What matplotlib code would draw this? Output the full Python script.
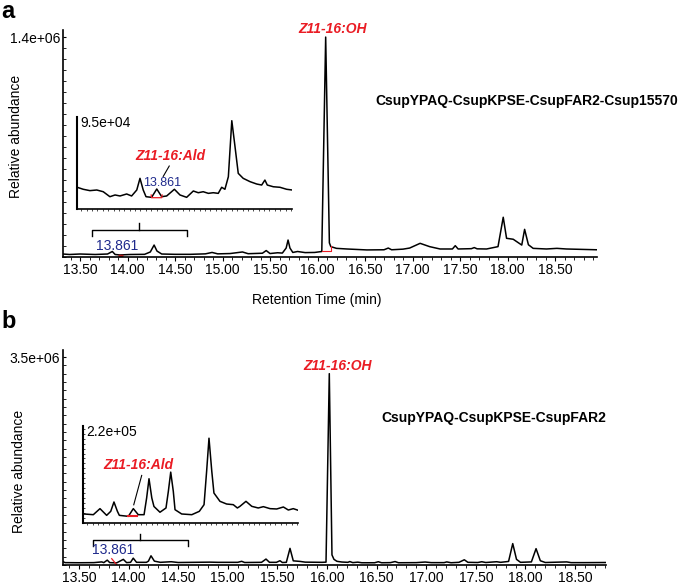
import matplotlib
matplotlib.use('Agg')
import matplotlib.pyplot as plt
from matplotlib.ticker import MultipleLocator, FormatStrFormatter

plt.rcParams['font.family'] = ['Liberation Sans', 'DejaVu Sans']
plt.rcParams['font.size'] = 10

# ---- panel a: CsupYPAQ-CsupKPSE-CsupFAR2-Csup15570 ----
a_time = [13.32, 13.39, 13.50, 13.66, 13.79, 13.84, 13.87, 13.92, 14.03, 14.18,
          14.24, 14.28, 14.31, 14.36, 14.50, 14.66, 14.82, 14.89, 14.95, 15.08,
          15.21, 15.27, 15.42, 15.46, 15.50, 15.58, 15.63, 15.67, 15.69, 15.71,
          15.74, 15.79, 15.87, 15.97, 16.045, 16.086, 16.125, 16.14, 16.20, 16.31,
          16.52, 16.70, 16.745, 16.78, 16.90, 16.97, 17.08, 17.18, 17.29, 17.42,
          17.45, 17.48, 17.62, 17.65, 17.68, 17.78, 17.90, 17.955, 17.99, 18.06,
          18.15, 18.18, 18.22, 18.27, 18.41, 18.52, 18.62, 18.94]
a_abund = [19e3, 16e3, 19e3, 16e3, 19e3, 35e3, 16e3, 13e3, 16e3, 17e3,
           32e3, 76e3, 38e3, 19e3, 17e3, 17e3, 20e3, 29e3, 20e3, 22e3,
           32e3, 21e3, 24e3, 41e3, 22e3, 27e3, 25e3, 57e3, 108e3, 57e3,
           29e3, 35e3, 28e3, 29e3, 35e3, 1400e3, 90e3, 66e3, 55e3, 51e3,
           45e3, 46e3, 57e3, 46e3, 50e3, 57e3, 87e3, 66e3, 51e3, 51e3,
           72e3, 51e3, 53e3, 60e3, 52e3, 51e3, 66e3, 253e3, 119e3, 113e3,
           76e3, 176e3, 78e3, 55e3, 51e3, 55e3, 51e3, 46e3]

a_inset_time = [13.631, 13.659, 13.690, 13.722, 13.752, 13.783, 13.807, 13.830, 13.861,
                13.884, 13.908, 13.923, 13.938, 13.951, 13.977, 14.001, 14.024, 14.047,
                14.083, 14.109, 14.140, 14.171, 14.194, 14.217, 14.241, 14.264, 14.287,
                14.303, 14.318, 14.334, 14.350, 14.365, 14.380, 14.403, 14.435, 14.466,
                14.489, 14.504, 14.515, 14.543, 14.574, 14.605, 14.631]
a_inset_abund = [24.0e3, 21.8e3, 20.3e3, 21.0e3, 19.1e3, 13.6e3, 15.5e3, 14.4e3, 16.6e3,
                 14.4e3, 21.0e3, 33.9e3, 21.0e3, 13.6e3, 12.9e3, 22.1e3, 13.6e3, 14.4e3,
                 21.8e3, 15.5e3, 12.9e3, 19.9e3, 18.0e3, 19.1e3, 17.3e3, 18.0e3, 17.3e3,
                 24.0e3, 21.8e3, 35.7e3, 97.6e3, 68.8e3, 39.4e3, 33.9e3, 30.2e3, 27.6e3,
                 26.5e3, 32.0e3, 26.5e3, 24.6e3, 24.0e3, 21.8e3, 21.0e3]

# ---- panel b: CsupYPAQ-CsupKPSE-CsupFAR2 ----
b_time = [13.34, 13.36, 13.50, 13.65, 13.73, 13.75, 13.785, 13.81, 13.88, 13.947,
          13.98, 14.02, 14.047, 14.08, 14.18, 14.20, 14.226, 14.26, 14.32, 14.43,
          14.50, 14.82, 14.90, 15.10, 15.14, 15.17, 15.34, 15.385, 15.42, 15.49,
          15.526, 15.55, 15.59, 15.627, 15.66, 15.73, 15.78, 15.95, 15.99, 16.023,
          16.05, 16.07, 16.10, 16.15, 16.21, 16.23, 16.26, 16.31, 16.35, 16.48,
          16.517, 16.55, 16.64, 16.686, 16.72, 16.90, 16.99, 17.05, 17.18, 17.207,
          17.25, 17.33, 17.384, 17.42, 17.52, 17.56, 17.60, 17.71, 17.75, 17.83,
          17.872, 17.91, 17.95, 18.06, 18.107, 18.15, 18.20, 18.416, 18.46, 18.60,
          18.81]
b_abund = [55e3, 40e3, 38e3, 40e3, 52e3, 40e3, 82e3, 40e3, 36e3, 95e3,
           40e3, 45e3, 115e3, 45e3, 45e3, 65e3, 155e3, 65e3, 45e3, 55e3,
           42e3, 48e3, 45e3, 45e3, 62e3, 42e3, 45e3, 100e3, 45e3, 45e3,
           72e3, 42e3, 45e3, 280e3, 70e3, 60e3, 48e3, 45e3, 48e3, 3220e3,
           170e3, 95e3, 62e3, 50e3, 45e3, 58e3, 40e3, 48e3, 38e3, 38e3,
           55e3, 38e3, 40e3, 58e3, 38e3, 40e3, 50e3, 40e3, 40e3, 52e3,
           38e3, 45e3, 88e3, 45e3, 42e3, 55e3, 42e3, 55e3, 45e3, 60e3,
           360e3, 95e3, 45e3, 52e3, 275e3, 72e3, 42e3, 52e3, 40e3, 40e3,
           42e3]

b_inset_time = [13.635, 13.678, 13.709, 13.740, 13.759, 13.774, 13.790, 13.799, 13.841,
                13.864, 13.887, 13.914, 13.926, 13.937, 13.950, 13.960, 13.988, 14.016,
                14.027, 14.038, 14.050, 14.058, 14.089, 14.136, 14.171, 14.193, 14.205,
                14.216, 14.229, 14.239, 14.267, 14.298, 14.329, 14.348, 14.360, 14.388,
                14.415, 14.445, 14.469, 14.500, 14.531, 14.562, 14.585, 14.608, 14.631]
b_inset_abund = [21.8e3, 20.1e3, 34.7e3, 18.5e3, 28.2e3, 50.8e3, 28.2e3, 18.5e3, 16.1e3,
                 34.7e3, 20.1e3, 20.1e3, 60.5e3, 107e3, 60.5e3, 40.0e3, 26.0e3, 36.3e3,
                 76.6e3, 123e3, 76.6e3, 32.2e3, 21.8e3, 20.1e3, 28.2e3, 44.3e3, 125e3,
                 205e3, 125e3, 72.5e3, 52.4e3, 45.9e3, 44.3e3, 36.3e3, 40.3e3, 52.4e3,
                 40.3e3, 36.3e3, 39.5e3, 34.7e3, 33.9e3, 38.7e3, 31.4e3, 34.7e3, 30.7e3]

# axis ranges / labels
a_xlim = (13.321, 18.942)
b_xlim = (13.339, 18.812)
a_ylim_top, a_ylabel_val = 1.445e6, 1.4e6
b_ylim_top, b_ylabel_val = 3.618e6, 3.5e6
inset_xlim = (13.63, 14.63)
a_inset_top, a_inset_label = 101.7e3, 9.5e4
b_inset_top, b_inset_label = 234.5e3, 2.2e5
a_bracket = (13.626, 14.626)
b_bracket = (13.641, 14.599)

RED = '#ea1c24'
NAVY = '#1f2a8c'
W, H = 685, 586
DY = 2  # lift panel b a little so its tick labels stay inside the figure
LW = 1.1


def px_rect(left, top, right, bottom):
    return [left / W, 1 - bottom / H, (right - left) / W, (bottom - top) / H]


def style_main(ax, xlim, ytop, ylabel_val, ystep):
    ax.set_xlim(*xlim)
    ax.set_ylim(0, ytop)
    for s in ['top', 'right']:
        ax.spines[s].set_visible(False)
    for s in ['left', 'bottom']:
        ax.spines[s].set_linewidth(1.2)
    ax.xaxis.set_major_locator(MultipleLocator(0.5))
    ax.xaxis.set_minor_locator(MultipleLocator(0.1))
    ax.xaxis.set_major_formatter(FormatStrFormatter('%.2f'))
    ax.tick_params(axis='x', which='major', length=3, width=0.8, labelsize=10, pad=1.5)
    ax.tick_params(axis='x', which='minor', length=2, width=0.6)
    ax.set_yticks([ylabel_val])
    ax.set_yticklabels([f'{ylabel_val:.1e}'])
    ax.yaxis.set_minor_locator(MultipleLocator(ystep))
    ax.tick_params(axis='y', which='major', direction='in', length=2, width=0.8,
                   labelsize=10, pad=2)
    ax.tick_params(axis='y', which='minor', direction='in', length=2, width=0.6)


def style_inset(ax, ytop, label_val):
    ax.set_xlim(*inset_xlim)
    ax.set_ylim(0, ytop)
    for s in ['top', 'right']:
        ax.spines[s].set_visible(False)
    ax.spines['left'].set_linewidth(1.5)
    ax.spines['bottom'].set_linewidth(1.2)
    ax.set_yticks([])
    ax.set_xticks([])
    ax.xaxis.set_minor_locator(MultipleLocator(0.025))
    ax.tick_params(axis='x', which='minor', length=1.5, width=0.5)
    ax.patch.set_alpha(0)
    ax.text(0.015, label_val, f'{label_val:.1e}', transform=ax.get_yaxis_transform(),
            ha='left', va='center', fontsize=10)


def draw_bracket(ax, span, y, drop, rise):
    mid = (span[0] + span[1]) / 2
    ax.plot([span[0], span[0], span[1], span[1]], [y - drop, y, y, y - drop],
            color='black', lw=1.0)
    ax.plot([mid, mid], [y, y + rise], color='black', lw=1.0)


fig = plt.figure(figsize=(6.85, 5.86), dpi=100)

# ---------------- panel a ----------------
ax_a = fig.add_axes(px_rect(63, 30, 597, 257))
ax_a.plot(a_time, a_abund, color='black', lw=LW)
style_main(ax_a, a_xlim, a_ylim_top, a_ylabel_val, 7e4)
ax_a.plot([16.044, 16.139, 16.139], [40e3, 40e3, 70e3], color=RED, lw=0.8)
ax_a.plot([13.895, 13.95], [4e3, 4e3], color='#b01818', lw=2.5, solid_capstyle='butt')
ax_a.text(13.893, 72e3, '13.861', color=NAVY, ha='center', va='center', fontsize=10)
ax_a.text(16.163, 1.451e6, 'Z11-16:OH', color=RED, ha='center', va='center',
          fontsize=10, fontweight='bold', fontstyle='italic')
ax_a.text(18.205, 993e3, 'CsupYPAQ-CsupKPSE-CsupFAR2-Csup15570', ha='center',
          va='center', fontsize=10, fontweight='bold')
draw_bracket(ax_a, a_bracket, 172e3, 36e3, 42e3)

in_a = fig.add_axes(px_rect(77, 117, 292, 209))
in_a.plot(a_inset_time, a_inset_abund, color='black', lw=LW)
style_inset(in_a, a_inset_top, a_inset_label)
in_a.plot([13.975, 13.977, 14.024, 14.026], [15.5e3, 12.5e3, 12.5e3, 15.5e3],
          color=RED, lw=0.9)
in_a.text(14.024, 29e3, '13.861', color=NAVY, ha='center', va='center', fontsize=9)
in_a.plot([14.059, 14.031], [47.5e3, 36e3], color='black', lw=0.8)
in_a.text(14.063, 58.6e3, 'Z11-16:Ald', color=RED, ha='center', va='center',
          fontsize=10, fontweight='bold', fontstyle='italic')

fig.text(317 / W, 1 - 300 / H, 'Retention Time (min)', ha='center', va='center',
         fontsize=10)
fig.text(16 / W, 1 - 136 / H, 'Relative abundance', rotation=90, ha='center',
         va='center', fontsize=10)
fig.text(1 / W, 1.0, 'a', ha='left', va='top', fontsize=17, fontweight='bold')

# ---------------- panel b ----------------
ax_b = fig.add_axes(px_rect(63, 352 - DY, 606, 567 - DY))
ax_b.plot(b_time, b_abund, color='black', lw=LW)
style_main(ax_b, b_xlim, b_ylim_top, b_ylabel_val, 1.4e5)
ax_b.plot([13.830, 13.880], [106e3, 5e3], color=RED, lw=0.9)
ax_b.text(13.843, 252e3, '13.861', color=NAVY, ha='center', va='center', fontsize=10)
ax_b.text(16.111, 3.349e6, 'Z11-16:OH', color=RED, ha='center', va='center',
          fontsize=10, fontweight='bold', fontstyle='italic')
ax_b.text(17.683, 2.474e6, 'CsupYPAQ-CsupKPSE-CsupFAR2', ha='center', va='center',
          fontsize=10, fontweight='bold')
draw_bracket(ax_b, b_bracket, 421e3, 100e3, 100e3)

in_b = fig.add_axes(px_rect(83, 428 - DY, 298, 525 - DY))
in_b.plot(b_inset_time, b_inset_abund, color='black', lw=LW)
style_inset(in_b, b_inset_top, b_inset_label)
in_b.yaxis.set_minor_locator(MultipleLocator(1.2e4))
in_b.tick_params(axis='y', which='minor', direction='in', length=1.5, width=0.5)
in_b.plot([13.839, 13.881], [17e3, 17e3], color=RED, lw=1.5)
in_b.plot([13.903, 13.866], [115e3, 44e3], color='black', lw=0.8)
in_b.text(13.886, 141e3, 'Z11-16:Ald', color=RED, ha='center', va='center',
          fontsize=10, fontweight='bold', fontstyle='italic')

fig.text(19 / W, 1 - (473 - DY) / H, 'Relative abundance', rotation=90, ha='center',
         va='center', fontsize=10)
fig.text(1 / W, 1 - (323 - DY) / H, 'b', ha='left', va='center', fontsize=17,
         fontweight='bold')

fig.savefig('out.png', dpi=100)
